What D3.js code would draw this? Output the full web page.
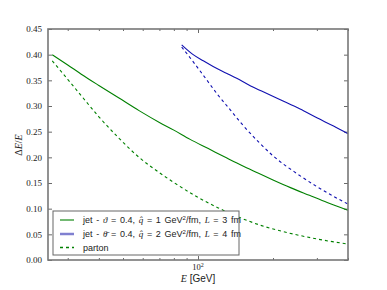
<!DOCTYPE html>
<html>
<head>
<meta charset="utf-8">
<script src="https://cdn.jsdelivr.net/npm/d3@7"></script>
<style>
  body { margin: 0; background: #fff; }
  svg { display: block; }
  .tick text { font-family: "Liberation Serif", "DejaVu Serif", serif; font-size: 9px; fill: #222; }
</style>
</head>
<body>
<svg id="chart"></svg>
<script>
// Size
const width = 387;
const height = 290;

// Data
const jet1E   = [26, 30, 34, 40, 48, 58, 70, 80, 93, 110, 130, 150, 175, 200, 235, 280, 330, 400];
const jet1Val = [0.400, 0.380, 0.362, 0.340, 0.316, 0.291, 0.268, 0.253, 0.235, 0.217, 0.199, 0.184, 0.169, 0.156, 0.141, 0.126, 0.112, 0.097];

const partonE   = [26, 30, 34, 40, 48, 58, 70, 80, 100, 120, 150, 180, 230, 300, 400];
const partonVal = [0.388, 0.352, 0.320, 0.279, 0.238, 0.200, 0.170, 0.151, 0.122, 0.102, 0.081, 0.067, 0.053, 0.041, 0.031];

const jet2E   = [86, 95, 105, 115, 130, 143, 160, 180, 214, 257, 300, 350, 400];
const jet2Val = [0.419, 0.401, 0.388, 0.377, 0.364, 0.354, 0.341, 0.329, 0.312, 0.294, 0.277, 0.261, 0.246];

const parton2E   = [86, 95, 105, 120, 135, 150, 175, 200, 250, 300, 350, 400];
const parton2Val = [0.415, 0.388, 0.360, 0.322, 0.292, 0.265, 0.230, 0.203, 0.168, 0.143, 0.124, 0.109];

const yTicks = [0.00, 0.05, 0.10, 0.15, 0.20, 0.25, 0.30, 0.35, 0.40, 0.45];
const xMinorTicks = [30, 40, 50, 60, 70, 80, 90, 200, 300, 400];

const green = "#008000";
const blue = "#1010b0";

const svg = d3.select("#chart")
    .attr("width", width)
    .attr("height", height);

// Scales
const x = d3.scaleLog().domain([25, 400]).range([48, 348]);
const y = d3.scaleLinear().domain([0, 0.45]).range([260, 29]);

// Axes with inward ticks on all four sides
function styleAxis(g) {
    g.select(".domain").remove();
    g.selectAll(".tick line").attr("stroke", "#444").attr("stroke-width", 0.8);
}

svg.append("g")
    .attr("transform", `translate(0,${y(0)})`)
    .call(d3.axisBottom(x).tickValues([100]).tickSizeInner(-4).tickFormat(() => ""))
    .call(styleAxis);
svg.append("g")
    .attr("transform", `translate(0,${y(0)})`)
    .call(d3.axisBottom(x).tickValues(xMinorTicks).tickSizeInner(-2).tickFormat(() => ""))
    .call(styleAxis);
svg.append("g")
    .attr("transform", `translate(0,${y(0.45)})`)
    .call(d3.axisTop(x).tickValues([100]).tickSizeInner(-4).tickFormat(() => ""))
    .call(styleAxis);
svg.append("g")
    .attr("transform", `translate(0,${y(0.45)})`)
    .call(d3.axisTop(x).tickValues(xMinorTicks).tickSizeInner(-2).tickFormat(() => ""))
    .call(styleAxis);

// 10^2 label
svg.append("text")
    .attr("x", x(100))
    .attr("y", y(0) + 10)
    .attr("text-anchor", "middle")
    .attr("font-family", "Liberation Serif, serif")
    .attr("font-size", 8.5)
    .attr("fill", "#222")
    .html('10<tspan dy="-3" font-size="6">2</tspan>');

svg.append("g")
    .attr("transform", `translate(${x(25)},0)`)
    .call(d3.axisLeft(y).tickValues(yTicks).tickSizeInner(-4).tickPadding(6).tickFormat(d3.format(".2f")))
    .call(styleAxis);
svg.append("g")
    .attr("transform", `translate(${x(400)},0)`)
    .call(d3.axisRight(y).tickValues(yTicks).tickSizeInner(-4).tickFormat(() => ""))
    .call(styleAxis);

// Curves
const line = d3.line()
    .x(d => x(d[0]))
    .y(d => y(d[1]))
    .curve(d3.curveMonotoneX);

const series = [
    { e: jet1E, v: jet1Val, color: green, dash: null },
    { e: partonE, v: partonVal, color: green, dash: "3,3" },
    { e: jet2E, v: jet2Val, color: blue, dash: null },
    { e: parton2E, v: parton2Val, color: blue, dash: "3,3" }
];

series.forEach(s => {
    svg.append("path")
        .datum(d3.zip(s.e, s.v))
        .attr("d", line)
        .attr("fill", "none")
        .attr("stroke", s.color)
        .attr("stroke-width", 1.1)
        .attr("stroke-dasharray", s.dash);
});

// Frame
svg.append("rect")
    .attr("x", x(25))
    .attr("y", y(0.45))
    .attr("width", x(400) - x(25))
    .attr("height", y(0) - y(0.45))
    .attr("fill", "none")
    .attr("stroke", "#777")
    .attr("stroke-width", 1.6);

// Legend
const legend = svg.append("g");
legend.append("rect")
    .attr("x", 53).attr("y", 211)
    .attr("width", 186).attr("height", 44)
    .attr("fill", "#fff")
    .attr("stroke", "#666")
    .attr("stroke-width", 1);

const mathOpen = '<tspan font-family="Liberation Serif, serif" font-style="italic">';
const legendItems = [
    { color: green, width: 1.1, dash: null,
      html: `jet - ${mathOpen}ϑ</tspan> = 0.4, ${mathOpen}q̂</tspan> = 1 GeV<tspan dy="-3" font-size="6">2</tspan><tspan dy="3">/fm, </tspan>${mathOpen}L</tspan> = 3 fm` },
    { color: "#8080d0", width: 2.5, dash: null,
      html: `jet - ${mathOpen}θ̄</tspan> = 0.4, ${mathOpen}q̂</tspan> = 2 GeV<tspan dy="-3" font-size="6">2</tspan><tspan dy="3">/fm, </tspan>${mathOpen}L</tspan> = 4 fm` },
    { color: green, width: 1.3, dash: "3,3",
      html: 'parton' }
];
const rowY = [220, 234, 247.5];

legendItems.forEach((it, i) => {
    legend.append("line")
        .attr("x1", 60).attr("x2", 74)
        .attr("y1", rowY[i]).attr("y2", rowY[i])
        .attr("stroke", it.color)
        .attr("stroke-width", it.width)
        .attr("stroke-dasharray", it.dash);
    legend.append("text")
        .attr("x", 83)
        .attr("y", rowY[i] + 3)
        .attr("font-family", "Liberation Sans, Arial, sans-serif")
        .attr("font-size", 9)
        .attr("word-spacing", 1.2)
        .attr("fill", "#222")
        .html(it.html);
});

// Axis labels
svg.append("text")
    .attr("x", 198)
    .attr("y", 282)
    .attr("text-anchor", "middle")
    .attr("font-family", "Liberation Sans, Arial, sans-serif")
    .attr("font-size", 10)
    .attr("fill", "#222")
    .html(`${mathOpen}E</tspan> [GeV]`);

svg.append("text")
    .attr("transform", "translate(22,145) rotate(-90)")
    .attr("text-anchor", "middle")
    .attr("font-family", "Liberation Serif, serif")
    .attr("font-size", 10)
    .attr("fill", "#222")
    .html('Δ<tspan font-style="italic">E</tspan>/<tspan font-style="italic">E</tspan>');
</script>
</body>
</html>
